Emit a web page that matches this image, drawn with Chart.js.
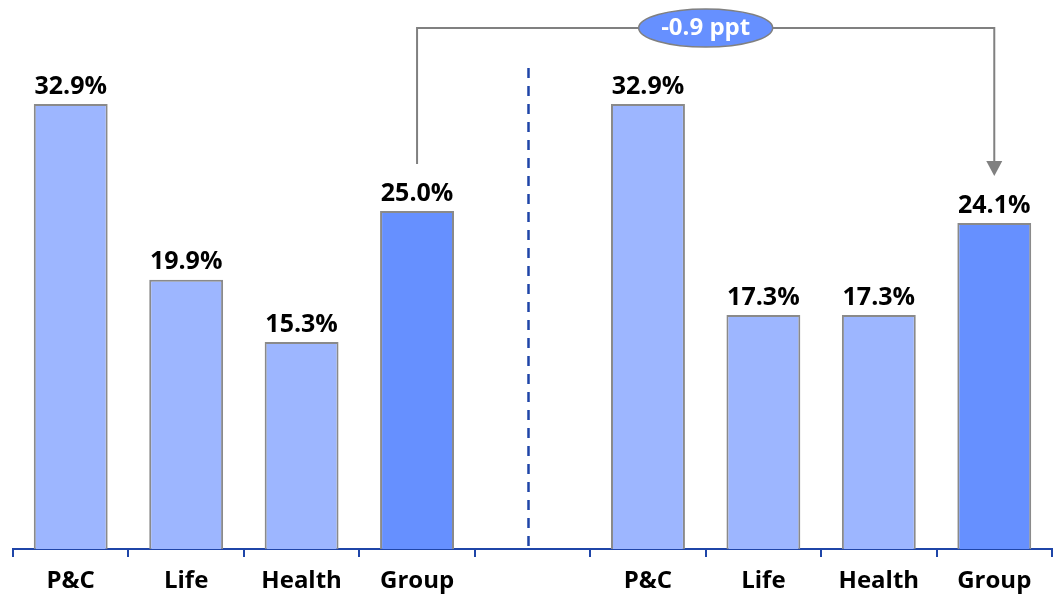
<!DOCTYPE html>
<html>
<head>
<meta charset="utf-8">
<script src="https://cdn.jsdelivr.net/npm/chart.js@4"></script>
<style>
  html, body { margin: 0; padding: 0; background: #ffffff; }
  #wrap { width: 1055px; height: 594px; position: relative; }
</style>
</head>
<body>
<div id="wrap"><canvas id="chart"></canvas></div>
<script>
// Categories (blank slot separates the two periods)
const categories = ["P&C", "Life", "Health", "Group", "", "P&C", "Life", "Health", "Group"];
// Values in %
const values = [32.9, 19.9, 15.3, 25.0, null, 32.9, 17.3, 17.3, 24.1];
const labels = ["32.9%", "19.9%", "15.3%", "25.0%", "", "32.9%", "17.3%", "17.3%", "24.1%"];
const changeText = "-0.9 ppt";

const lightBlue = "#9db6ff";
const darkBlue = "#6690ff";
const axisBlue = "#1f45a8";
const fontFam = "'Open Sans', 'DejaVu Sans', sans-serif";

const barColors = categories.map(c => c === "Group" ? darkBlue : lightBlue);

// Value labels above bars
const valueLabels = {
    id: "valueLabels",
    afterDatasetsDraw(chart) {
        const ctx = chart.ctx;
        const meta = chart.getDatasetMeta(0);
        ctx.save();
        ctx.fillStyle = "#000000";
        ctx.font = "bold 25px " + fontFam;
        ctx.textAlign = "center";
        ctx.textBaseline = "bottom";
        meta.data.forEach((bar, i) => {
            if (values[i] === null) return;
            ctx.fillText(labels[i], bar.x, bar.y - 5);
        });
        ctx.restore();
    }
};

// Dashed separator and the change bracket
const extras = {
    id: "extras",
    afterDraw(chart) {
        const ctx = chart.ctx;
        const x = chart.scales.x;
        const y = chart.scales.y;
        const area = chart.chartArea;

        // dashed divider in the blank slot
        const midX = x.getPixelForValue(4) - 4;
        ctx.save();
        ctx.strokeStyle = axisBlue;
        ctx.lineWidth = 2.5;
        ctx.setLineDash([10, 8]);
        ctx.beginPath();
        ctx.moveTo(midX, 68);
        ctx.lineTo(midX, area.bottom);
        ctx.stroke();
        ctx.restore();

        // bracket from first Group to second Group
        const x1 = x.getPixelForValue(3);
        const x2 = x.getPixelForValue(8);
        const y1 = y.getPixelForValue(values[3]) - 47;
        const y2 = y.getPixelForValue(values[8]) - 47;
        const topY = 28;
        ctx.save();
        ctx.strokeStyle = "#808080";
        ctx.fillStyle = "#808080";
        ctx.lineWidth = 2;
        ctx.beginPath();
        ctx.moveTo(x1, y1);
        ctx.lineTo(x1, topY);
        ctx.lineTo(x2, topY);
        ctx.lineTo(x2, y2 - 14);
        ctx.stroke();
        ctx.beginPath();
        ctx.moveTo(x2 - 8, y2 - 15);
        ctx.lineTo(x2 + 8, y2 - 15);
        ctx.lineTo(x2, y2);
        ctx.closePath();
        ctx.fill();

        // ellipse with change
        const cx = (x1 + x2) / 2;
        ctx.beginPath();
        ctx.ellipse(cx, topY, 67, 19, 0, 0, Math.PI * 2);
        ctx.fillStyle = darkBlue;
        ctx.fill();
        ctx.lineWidth = 1.5;
        ctx.strokeStyle = "#808080";
        ctx.stroke();
        ctx.fillStyle = "#ffffff";
        ctx.font = "bold 24px " + fontFam;
        ctx.textAlign = "center";
        ctx.textBaseline = "middle";
        ctx.fillText(changeText, cx, topY);
        ctx.restore();
    }
};

new Chart(document.getElementById("chart"), {
    type: "bar",
    data: {
        labels: categories,
        datasets: [{
            data: values,
            backgroundColor: barColors,
            borderColor: "#8a8a8a",
            borderWidth: 2,
            categoryPercentage: 1,
            barPercentage: 0.64
        }]
    },
    options: {
        responsive: true,
        maintainAspectRatio: false,
        animation: false,
        layout: { padding: { top: 8, left: 13, right: 3, bottom: -11 } },
        plugins: {
            legend: { display: false },
            tooltip: { enabled: false }
        },
        scales: {
            y: {
                display: false,
                min: 0,
                max: 40
            },
            x: {
                grid: {
                    display: true,
                    drawOnChartArea: false,
                    color: axisBlue,
                    lineWidth: 2,
                    tickLength: 8,
                    offset: true
                },
                border: { display: true, color: axisBlue, width: 2 },
                ticks: {
                    color: "#000000",
                    font: { family: fontFam, size: 24, weight: "bold", lineHeight: 1 },
                    padding: 12,
                    maxRotation: 0,
                    autoSkip: false
                }
            }
        }
    },
    plugins: [valueLabels, extras]
});
</script>
</body>
</html>
